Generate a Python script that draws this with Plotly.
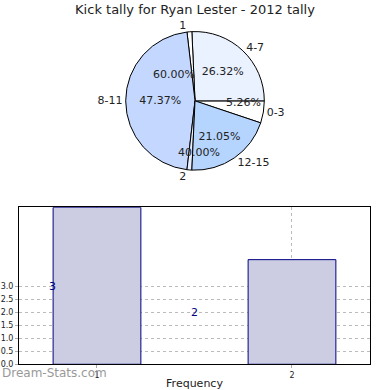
import plotly.graph_objects as go

# ---- data ----
range_labels = ["0-3", "4-7", "8-11", "12-15"]
range_counts = [1, 5, 9, 4]
freq_labels = ["1", "2"]
freq_counts = [3, 2]

SLIVER = 0.22  # visual width of the overlaid frequency slices

total = sum(range_counts)
ftotal = sum(freq_counts)
pct = [f"{c / total * 100:.2f}%" for c in range_counts]
fpct = [f"{c / ftotal * 100:.2f}%" for c in freq_counts]

# slice order as drawn (counter-clockwise from 3 o'clock)
slice_labels = [range_labels[0], range_labels[1], freq_labels[0], range_labels[2], freq_labels[1], range_labels[3]]
slice_values = [range_counts[0], range_counts[1], SLIVER, range_counts[2], SLIVER, range_counts[3]]
slice_text = ["", pct[1], "", pct[2], "", pct[3]]
slice_colors = ["#ffffff", "#eaf1ff", "#ffffff", "#c4d8ff", "#e6eeff", "#b5d5ff"]

pie_domain = dict(x=[0.32, 0.68], y=[0.558, 0.918])

fig = go.Figure()
fig.add_trace(go.Pie(
    labels=slice_labels, values=slice_values, text=slice_text,
    textinfo="text", textposition="inside", insidetextorientation="horizontal",
    sort=False, direction="counterclockwise", rotation=90,
    marker=dict(colors=slice_colors, line=dict(color="#000000", width=1)),
    textfont=dict(size=11, color="#222222", family="DejaVu Sans"),
    domain=pie_domain, showlegend=False, hoverinfo="label+percent",
))
fig.add_trace(go.Pie(
    labels=slice_labels, values=slice_values,
    texttemplate="%{label}", textposition="outside",
    sort=False, direction="counterclockwise", rotation=90,
    marker=dict(colors=["rgba(0,0,0,0)"] * len(slice_values), line=dict(width=0)),
    textfont=dict(size=11, color="#222222", family="DejaVu Sans"),
    domain=pie_domain, showlegend=False, hoverinfo="skip",
))

# bar chart
fig.add_trace(go.Bar(
    x=[1, 2], y=freq_counts, width=0.45, yaxis="y2", xaxis="x",
    marker=dict(color="#ccccE3", line=dict(color="#000080", width=1)),
    showlegend=False,
))

txt_font = dict(size=11, color="#222222", family="DejaVu Sans")

fig.update_layout(
    width=390, height=390,
    margin=dict(l=0, r=0, t=0, b=0),
    paper_bgcolor="white", plot_bgcolor="white",
    title=dict(text="Kick tally for Ryan Lester - 2012 tally", x=0.5, xanchor="center",
               y=0.976, yanchor="middle",
               font=dict(size=13, color="#222222", family="DejaVu Sans")),
    xaxis=dict(domain=[0.0487, 0.9487], range=[0.6, 2.4], tickvals=[1, 2], ticktext=freq_labels,
               showgrid=True, gridcolor="#bbbbbb", griddash="dot", gridwidth=1,
               showline=True, linecolor="black", linewidth=1, mirror=True,
               ticks="outside", ticklen=3, tickcolor="#aaaaaa",
               tickfont=dict(size=8, color="#222222", family="DejaVu Sans"),
               title=dict(text="Frequency", standoff=1, font=txt_font),
               zeroline=False, anchor="y"),
    yaxis=dict(domain=[0.0538, 0.4615], range=[0, 6.04], tickvals=[0, 0.5, 1, 1.5, 2, 2.5, 3],
               ticktext=["0.0", "0.5", "1.0", "1.5", "2.0", "2.5", "3.0"],
               showgrid=True, gridcolor="#bbbbbb", griddash="dot", gridwidth=1,
               showline=True, linecolor="black", linewidth=1, mirror=True,
               ticks="outside", ticklen=3, tickcolor="#aaaaaa",
               tickfont=dict(size=8, color="#222222", family="DejaVu Sans"),
               zeroline=False, anchor="x"),
    yaxis2=dict(domain=[0.0538, 0.4615], range=[0, 3], overlaying="y", visible=False, anchor="x"),
    annotations=[
        dict(x=0.77, y=freq_counts[0], xref="x", yref="y", text=str(freq_counts[0]), showarrow=False,
             font=dict(size=11, color="#000080", family="DejaVu Sans")),
        dict(x=1.5, y=freq_counts[1], xref="x", yref="y", text=str(freq_counts[1]), showarrow=False,
             font=dict(size=11, color="#000080", family="DejaVu Sans")),
        dict(x=0.445, y=0.828, xref="paper", yref="paper", text=fpct[0], showarrow=False, font=txt_font),
        dict(x=0.51, y=0.605, xref="paper", yref="paper", text=fpct[1], showarrow=False, font=txt_font),
        dict(x=0.625, y=0.755, xref="paper", yref="paper", text=pct[0], showarrow=False, font=txt_font),
        dict(x=0.0, y=0.03, xref="paper", yref="paper", xanchor="left", yanchor="middle",
             text="Dream-Stats.com", showarrow=False,
             font=dict(size=12, color="#999999", family="DejaVu Sans")),
    ],
)

page_fix = (
    "document.body.style.margin='0px';"
    "document.body.style.height='390px';"
    "document.body.style.overflow='hidden';"
    "document.documentElement.style.overflow='hidden';"
    "document.documentElement.style.height='390px';"
)
fig.write_html("out.html", config={"displayModeBar": False}, post_script=page_fix)
